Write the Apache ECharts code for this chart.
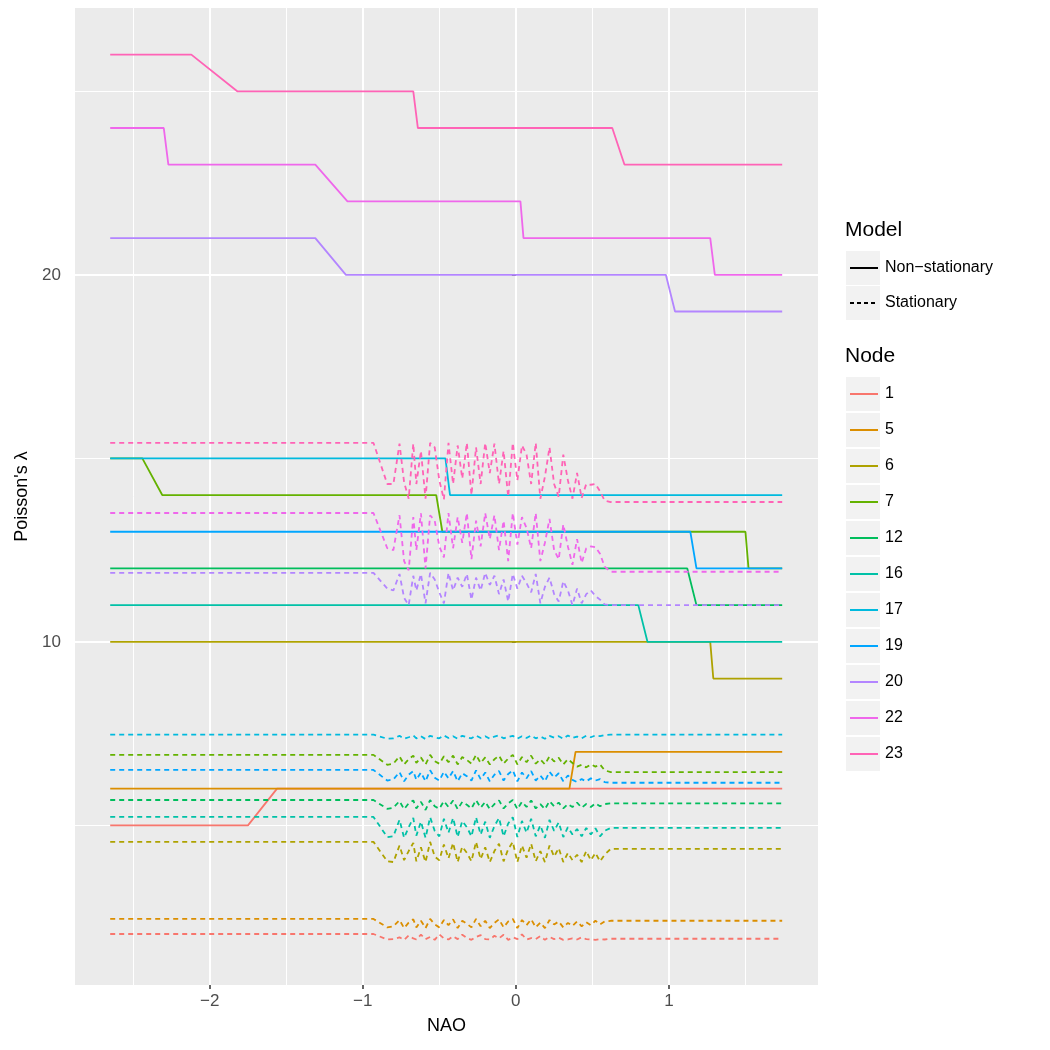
<!DOCTYPE html>
<html>
<head>
<meta charset="utf-8">
<script src="https://cdn.jsdelivr.net/npm/echarts@6/dist/echarts.min.js"></script>
<style>
html, body { margin: 0; padding: 0; background: #fff; }
#chart { width: 1050px; height: 1050px; }
</style>
</head>
<body>
<div id="chart"></div>
<script>
const nodes = ['1', '5', '6', '7', '12', '16', '17', '19', '20', '22', '23'];
const nodeColors = ['#F8766D', '#DB8E00', '#AEA200', '#64B200', '#00BD5C', '#00C1A7',
                    '#00BADE', '#00A6FF', '#B385FF', '#EF67EB', '#FF63B6'];

// Non-stationary fits, [NAO, lambda] at the break points
const solid1 = [[-2.65, 5], [-1.75, 5], [-1.56, 6], [1.74, 6]];
const solid5 = [[-2.65, 6], [0.35, 6], [0.39, 7], [1.74, 7]];
const solid6 = [[-2.65, 10], [1.27, 10], [1.29, 9], [1.74, 9]];
const solid7 = [[-2.65, 15], [-2.44, 15], [-2.31, 14], [-0.52, 14], [-0.48, 13], [1.50, 13], [1.52, 12], [1.74, 12]];
const solid12 = [[-2.65, 12], [1.12, 12], [1.18, 11], [1.74, 11]];
const solid16 = [[-2.65, 11], [0.80, 11], [0.86, 10], [1.74, 10]];
const solid17 = [[-2.65, 15], [-0.46, 15], [-0.43, 14], [1.74, 14]];
const solid19 = [[-2.65, 13], [1.14, 13], [1.18, 12], [1.74, 12]];
const solid20 = [[-2.65, 21], [-1.31, 21], [-1.11, 20], [0.98, 20], [1.04, 19], [1.74, 19]];
const solid22 = [[-2.65, 24], [-2.30, 24], [-2.27, 23], [-1.31, 23], [-1.10, 22], [0.03, 22], [0.05, 21], [1.27, 21], [1.30, 20], [1.74, 20]];
const solid23 = [[-2.65, 26], [-2.12, 26], [-1.82, 25], [-0.67, 25], [-0.64, 24], [0.63, 24], [0.71, 23], [1.74, 23]];

// Stationary fits: NAO values and lambda per node
const naoDash = [-2.65, -0.93, -0.84, -0.80, -0.76, -0.73, -0.70, -0.67, -0.65, -0.62,
                 -0.59, -0.56, -0.53, -0.50, -0.47, -0.44, -0.41, -0.38, -0.35, -0.32,
                 -0.29, -0.26, -0.23, -0.20, -0.17, -0.14, -0.11, -0.08, -0.05, -0.02,
                 0.01, 0.04, 0.07, 0.10, 0.13, 0.16, 0.19, 0.22, 0.25, 0.28,
                 0.31, 0.34, 0.37, 0.40, 0.43, 0.46, 0.49, 0.52, 0.55, 0.58,
                 0.62, 1.74];
const dash1 = [2.04, 2.04, 1.89, 1.90, 1.95, 1.88, 2.00, 1.92, 1.89, 2.02, 1.90, 1.96, 1.88, 2.03, 1.92, 1.89, 1.98, 1.90, 2.02, 1.93,
               1.88, 1.96, 2.01, 1.90, 1.89, 1.99, 1.92, 2.02, 1.88, 1.95, 1.90, 2.03, 1.89, 1.93, 1.90, 1.98, 1.88, 1.96, 1.90, 1.94,
               1.88, 1.89, 1.92, 1.89, 1.95, 1.90, 1.89, 1.88, 1.90, 1.89, 1.91, 1.91];
const dash5 = [2.45, 2.45, 2.22, 2.25, 2.42, 2.20, 2.35, 2.44, 2.22, 2.40, 2.20, 2.45, 2.30, 2.22, 2.42, 2.28, 2.44, 2.20, 2.40, 2.32,
               2.22, 2.45, 2.25, 2.40, 2.20, 2.34, 2.44, 2.22, 2.38, 2.45, 2.20, 2.42, 2.28, 2.44, 2.22, 2.35, 2.20, 2.42, 2.30, 2.38,
               2.22, 2.34, 2.26, 2.38, 2.25, 2.36, 2.28, 2.40, 2.30, 2.38, 2.40, 2.40];
const dash6 = [4.55, 4.55, 4.02, 4.00, 4.45, 4.05, 4.30, 4.52, 4.02, 4.40, 4.00, 4.55, 4.15, 4.05, 4.48, 4.10, 4.52, 4.00, 4.42, 4.25,
               4.02, 4.55, 4.08, 4.40, 4.00, 4.30, 4.50, 4.02, 4.35, 4.55, 4.00, 4.45, 4.12, 4.50, 4.02, 4.30, 4.00, 4.45, 4.15, 4.38,
               4.00, 4.25, 4.05, 4.20, 4.00, 4.30, 4.05, 4.25, 4.02, 4.20, 4.36, 4.36];
const dash7 = [6.92, 6.92, 6.65, 6.68, 6.88, 6.66, 6.80, 6.90, 6.70, 6.85, 6.66, 6.92, 6.75, 6.68, 6.88, 6.72, 6.90, 6.66, 6.86, 6.78,
               6.68, 6.92, 6.70, 6.85, 6.66, 6.80, 6.90, 6.68, 6.82, 6.92, 6.66, 6.86, 6.72, 6.90, 6.68, 6.80, 6.66, 6.88, 6.74, 6.84,
               6.66, 6.80, 6.70, 6.60, 6.65, 6.58, 6.66, 6.60, 6.66, 6.50, 6.45, 6.45];
const dash12 = [5.69, 5.69, 5.45, 5.48, 5.66, 5.44, 5.60, 5.68, 5.46, 5.64, 5.42, 5.69, 5.52, 5.45, 5.66, 5.50, 5.68, 5.44, 5.64, 5.56,
                5.46, 5.69, 5.48, 5.64, 5.44, 5.58, 5.68, 5.46, 5.60, 5.69, 5.44, 5.64, 5.50, 5.68, 5.46, 5.58, 5.44, 5.66, 5.52, 5.62,
                5.46, 5.58, 5.50, 5.62, 5.48, 5.58, 5.50, 5.60, 5.52, 5.58, 5.60, 5.60];
const dash16 = [5.23, 5.23, 4.68, 4.70, 5.15, 4.66, 4.95, 5.20, 4.72, 5.10, 4.66, 5.22, 4.85, 4.70, 5.18, 4.80, 5.20, 4.68, 5.12, 4.95,
                4.70, 5.22, 4.75, 5.10, 4.66, 4.98, 5.20, 4.70, 5.05, 5.22, 4.68, 5.12, 4.80, 5.18, 4.70, 5.00, 4.66, 5.15, 4.85, 5.08,
                4.68, 4.95, 4.75, 4.90, 4.70, 4.93, 4.75, 4.92, 4.70, 4.85, 4.93, 4.93];
const dash17 = [7.47, 7.47, 7.36, 7.37, 7.44, 7.36, 7.40, 7.45, 7.37, 7.43, 7.35, 7.44, 7.40, 7.37, 7.45, 7.38, 7.43, 7.36, 7.44, 7.40,
                7.37, 7.45, 7.38, 7.43, 7.36, 7.42, 7.45, 7.37, 7.41, 7.44, 7.36, 7.43, 7.38, 7.45, 7.37, 7.42, 7.36, 7.44, 7.39, 7.43,
                7.36, 7.45, 7.38, 7.42, 7.37, 7.44, 7.40, 7.45, 7.43, 7.46, 7.47, 7.47];
const dash19 = [6.51, 6.51, 6.22, 6.25, 6.45, 6.20, 6.38, 6.48, 6.24, 6.44, 6.20, 6.50, 6.30, 6.22, 6.46, 6.28, 6.48, 6.20, 6.42, 6.34,
                6.22, 6.50, 6.26, 6.44, 6.20, 6.38, 6.48, 6.22, 6.40, 6.50, 6.20, 6.44, 6.28, 6.48, 6.22, 6.36, 6.20, 6.46, 6.30, 6.42,
                6.20, 6.36, 6.24, 6.18, 6.26, 6.20, 6.28, 6.22, 6.26, 6.18, 6.16, 6.16];
const dash20 = [11.88, 11.88, 11.45, 11.40, 11.85, 11.20, 11.00, 11.80, 11.40, 11.85, 11.05, 11.88, 11.70, 11.35, 11.05, 11.88, 11.40, 11.75, 11.50, 11.85,
                11.15, 11.75, 11.40, 11.88, 11.55, 11.80, 11.30, 11.70, 11.10, 11.85, 11.45, 11.80, 11.60, 11.35, 11.85, 11.05, 11.50, 11.75, 11.30, 11.10,
                11.65, 11.40, 11.00, 11.45, 11.05, 11.30, 11.40, 11.25, 11.15, 11.02, 11.00, 11.00];
const dash22 = [13.51, 13.51, 12.55, 12.50, 13.45, 12.20, 11.95, 13.40, 12.50, 13.50, 12.00, 13.45, 13.30, 12.60, 12.30, 13.51, 12.55, 13.40, 12.70, 13.51,
                12.25, 13.30, 12.60, 13.51, 12.80, 13.45, 12.50, 13.30, 12.20, 13.51, 12.65, 13.40, 13.10, 12.55, 13.51, 12.20, 12.70, 13.35, 12.50, 12.25,
                13.20, 12.60, 12.10, 12.80, 12.15, 12.55, 12.60, 12.58, 12.40, 12.05, 11.91, 11.91];
const dash23 = [15.42, 15.42, 14.30, 14.30, 15.40, 14.35, 13.90, 15.40, 14.30, 15.20, 13.90, 15.42, 15.30, 14.40, 13.88, 15.42, 14.30, 15.35, 14.45, 15.42,
                14.00, 15.30, 14.30, 15.42, 14.60, 15.40, 14.30, 15.20, 13.95, 15.42, 14.40, 15.35, 15.10, 14.30, 15.42, 13.90, 14.50, 15.30, 14.30, 13.95,
                15.10, 14.40, 13.90, 14.60, 13.92, 14.30, 14.28, 14.30, 14.10, 13.85, 13.81, 13.81];

const xMajor = [-2, -1, 0, 1];
const xMinor = [-2.5, -1.5, -0.5, 0.5, 1.5];
const yMajor = [10, 20];
const yMinor = [5, 15, 25];

const solidData = [solid1, solid5, solid6, solid7, solid12, solid16, solid17, solid19, solid20, solid22, solid23];
const dashData = [dash1, dash5, dash6, dash7, dash12, dash16, dash17, dash19, dash20, dash22, dash23];

const chart = echarts.init(document.getElementById('chart'));

const FONT = 'Liberation Sans';
const series = [];

// panel grid lines, kept beneath the data
const gridLine = (axis, v, w) => ({ [axis]: v, lineStyle: { color: '#FFFFFF', width: w, type: 'solid' } });
series.push({
  type: 'line',
  data: [],
  z: 0,
  silent: true,
  markLine: {
    z: 0,
    silent: true,
    symbol: ['none', 'none'],
    label: { show: false },
    animation: false,
    data: [
      ...xMinor.map(v => gridLine('xAxis', v, 1)),
      ...yMinor.map(v => gridLine('yAxis', v, 1)),
      ...xMajor.map(v => gridLine('xAxis', v, 2)),
      ...yMajor.map(v => gridLine('yAxis', v, 2))
    ]
  }
});

// legend-only series for the Model key
series.push({ name: 'Non−stationary', type: 'line', data: [], symbol: 'none',
  lineStyle: { color: '#000', width: 1.8 }, itemStyle: { color: '#000' } });
series.push({ name: 'Stationary', type: 'line', data: [], symbol: 'none',
  lineStyle: { color: '#000', width: 1.8, type: [4, 3] }, itemStyle: { color: '#000' } });

nodes.forEach((node, i) => {
  series.push({
    name: node,
    type: 'line',
    data: solidData[i],
    symbol: 'none',
    z: 2,
    lineStyle: { color: nodeColors[i], width: 1.8 },
    itemStyle: { color: nodeColors[i] }
  });
  series.push({
    name: node,
    type: 'line',
    data: naoDash.map((x, k) => [x, dashData[i][k]]),
    symbol: 'none',
    z: 2,
    lineStyle: { color: nodeColors[i], width: 1.8, type: [5, 4] },
    itemStyle: { color: nodeColors[i] }
  });
});

// grey key backgrounds of the legends
const keyCentres = [268, 303];
nodes.forEach((n, i) => keyCentres.push(394 + i * 36));

const legendBase = {
  orient: 'vertical',
  left: 849,
  padding: 0,
  itemWidth: 28, itemHeight: 20,
  selectedMode: false,
  itemStyle: { opacity: 0 },
  textStyle: { fontFamily: FONT, fontSize: 16, color: '#000', lineHeight: 20, padding: [0, 0, 0, 2] }
};

const option = {
  animation: false,
  backgroundColor: '#FFFFFF',
  grid: {
    left: 75, right: 232, top: 8, bottom: 65,
    show: true, backgroundColor: '#EBEBEB', borderWidth: 0
  },
  xAxis: {
    type: 'value',
    min: -2.88, max: 1.974,
    name: 'NAO',
    nameLocation: 'middle',
    nameGap: 32,
    nameTextStyle: { fontFamily: FONT, fontSize: 18, color: '#000' },
    axisLine: { show: false },
    axisTick: { show: true, length: 4, customValues: xMajor, lineStyle: { color: '#333333', width: 1.5 } },
    axisLabel: { customValues: xMajor, fontFamily: FONT, fontSize: 17, color: '#4D4D4D', margin: 8,
      formatter: v => (v < 0 ? '−' + Math.abs(v) : String(v)) },
    splitLine: { show: false }
  },
  yAxis: {
    type: 'value',
    min: 0.65, max: 27.27,
    name: "Poisson's λ",
    nameLocation: 'middle',
    nameGap: 40,
    nameRotate: 90,
    nameTextStyle: { fontFamily: FONT, fontSize: 18, color: '#000' },
    axisLine: { show: false },
    axisTick: { show: true, length: 4, customValues: yMajor, lineStyle: { color: '#333333', width: 1.5 } },
    axisLabel: { customValues: yMajor, fontFamily: FONT, fontSize: 17, color: '#4D4D4D', margin: 14 },
    splitLine: { show: false }
  },
  legend: [
    Object.assign({}, legendBase, { data: ['Non−stationary', 'Stationary'], top: 258, itemGap: 15 }),
    Object.assign({}, legendBase, { data: nodes, top: 384, itemGap: 16 })
  ],
  graphic: [
    ...keyCentres.map(cy => ({
      type: 'rect', z: -1, silent: true,
      shape: { x: 846, y: cy - 17, width: 34, height: 34 },
      style: { fill: '#F2F2F2' }
    })),
    { type: 'text', left: 845, top: 220, silent: true,
      style: { text: 'Model', fontFamily: FONT, fontSize: 21, fill: '#000' } },
    { type: 'text', left: 845, top: 346, silent: true,
      style: { text: 'Node', fontFamily: FONT, fontSize: 21, fill: '#000' } }
  ],
  series: series
};

chart.setOption(option);
</script>
</body>
</html>
